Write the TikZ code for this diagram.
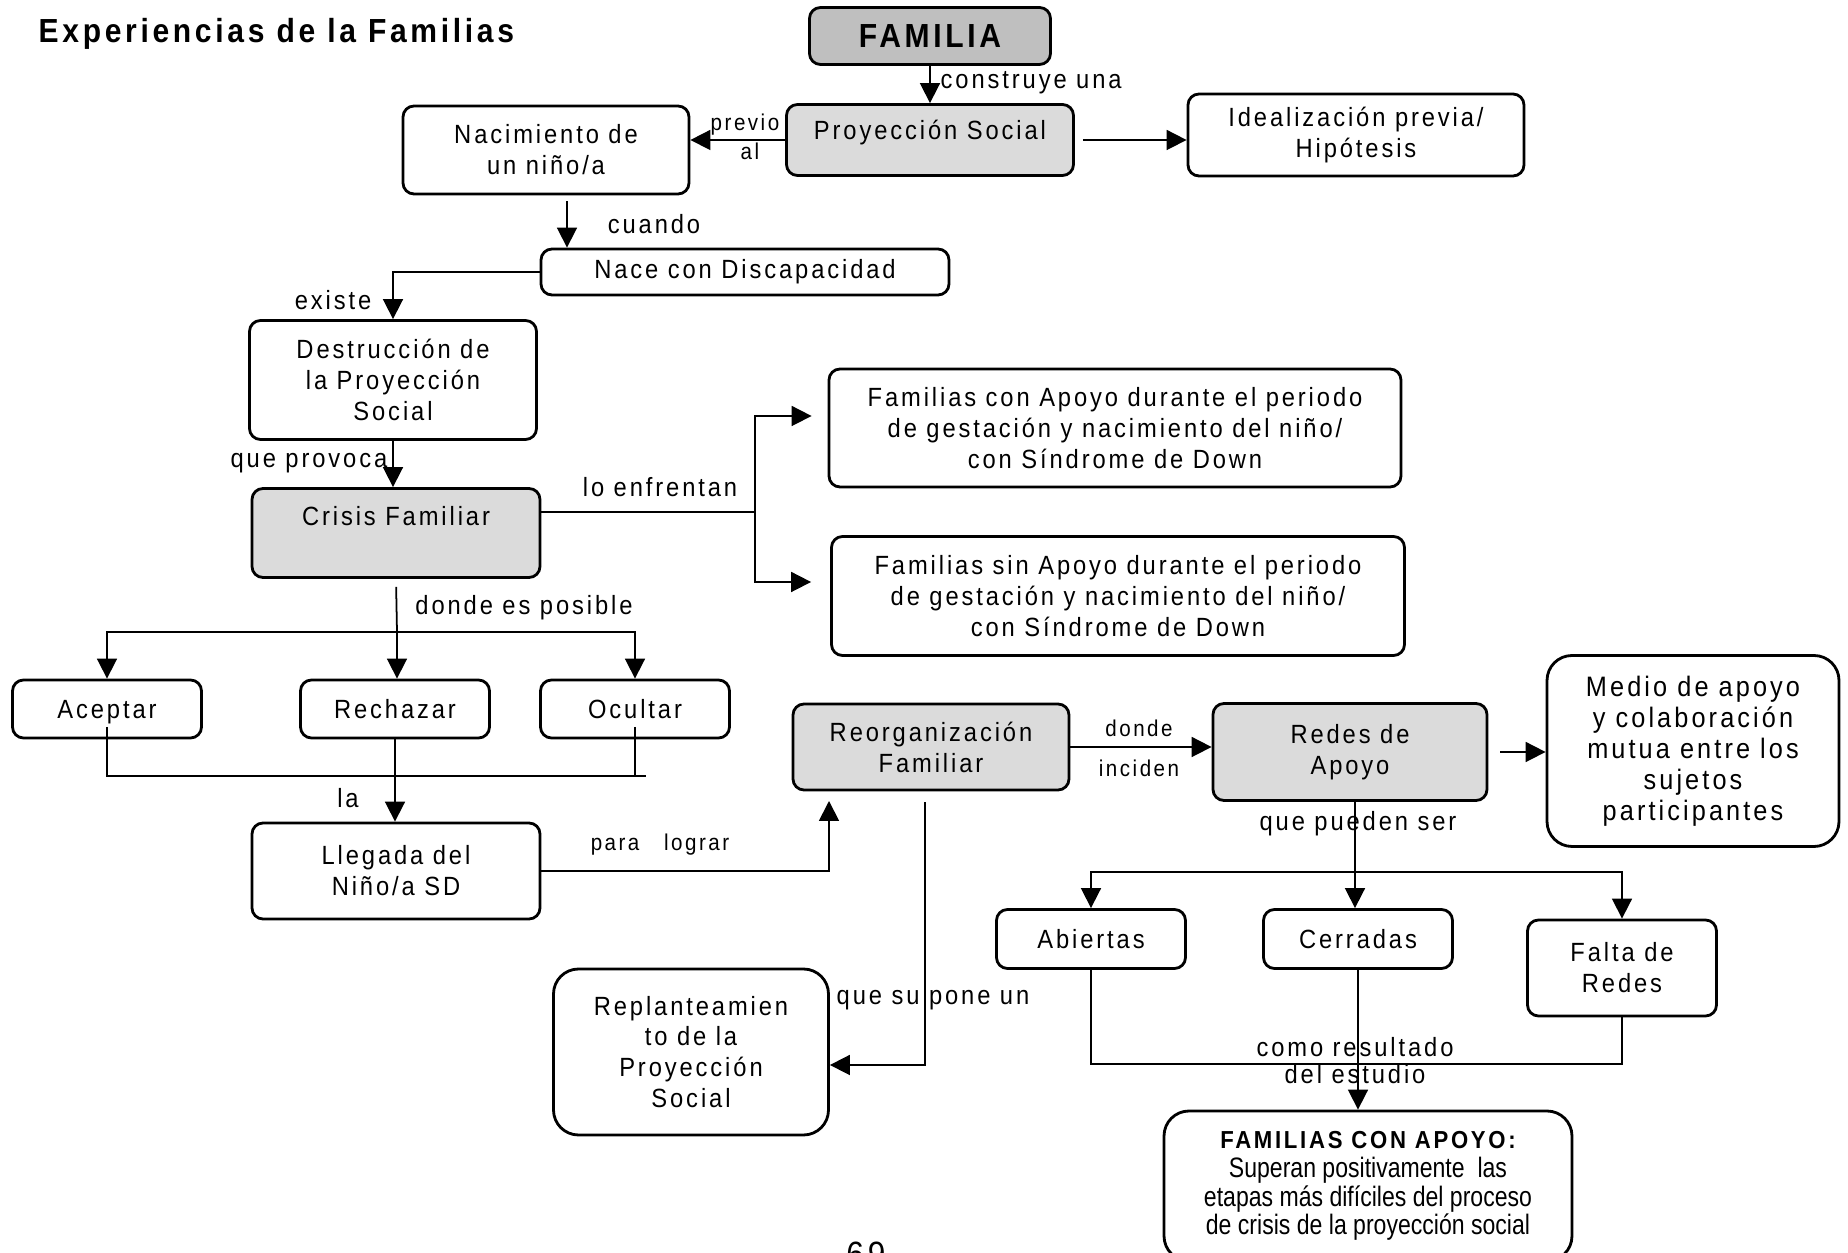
\documentclass[tikz,border=0pt]{standalone}
\usepackage{fontspec}
\setmainfont{Liberation Sans}[LetterSpace=11,FakeStretch=0.9]
\newfontfamily\estrecha{Liberation Sans}[FakeStretch=0.82]
\usetikzlibrary{arrows.meta,calc}

\begin{document}
\begin{tikzpicture}[x=0.1mm,y=-0.1mm,
    caja/.style={draw,line width=0.8pt,rounded corners=1.1mm,align=center,
      font=\fontsize{7.5}{8.8}\selectfont,inner sep=1pt},
    gris/.style={caja,fill=gray!28},
    flecha/.style={line width=0.5pt,-{Triangle[length=2mm,width=2mm]}},
    linea/.style={line width=0.5pt},
    etiq/.style={font=\fontsize{7.5}{8.8}\selectfont,inner sep=0pt},
    chica/.style={font=\fontsize{6.5}{7.5}\selectfont,inner sep=0pt}]
    \useasboundingbox (0,0) rectangle (1848,1253);
    \clip (0,0) rectangle (1848,1253);

    % Título
    \node[anchor=west,inner sep=0pt,font=\bfseries\fontsize{9.5}{11}\selectfont] (titulo) at (38,34) {Experiencias de la Familias};

    % Cajas de arriba
    \node[gris,fill=gray!50,minimum width=24.1mm,minimum height=5.7mm,font=\bfseries\fontsize{9.5}{11}\selectfont] (fam) at (930,36) {FAMILIA};
    \node[gris,minimum width=28.7mm,minimum height=7.1mm,text depth=2.1mm] (proy) at (930,140) {Proyección Social};
    \node[caja,minimum width=28.6mm,minimum height=8.8mm] (nac) at (546,150) {Nacimiento de\\un niño/a};
    \node[caja,minimum width=33.6mm,minimum height=8.2mm] (ideal) at (1356,135) {Idealización previa/\\Hipótesis};
    \node[caja,minimum width=40.8mm,minimum height=4.6mm] (nace) at (745,272) {Nace con Discapacidad};
    \node[caja,minimum width=28.7mm,minimum height=11.9mm] (destr) at (393,380) {Destrucción de\\la Proyección\\Social};
    \node[gris,minimum width=28.8mm,minimum height=8.9mm,text depth=3.5mm] (crisis) at (396,533) {Crisis Familiar};

    % Familias con y sin apoyo
    \node[caja,minimum width=57.2mm,minimum height=11.8mm] (fcon) at (1115,428) {Familias con Apoyo durante el periodo\\de gestación y nacimiento del niño/\\con Síndrome de Down};
    \node[caja,minimum width=57.3mm,minimum height=11.9mm] (fsin) at (1118,596) {Familias sin Apoyo durante el periodo\\de gestación y nacimiento del niño/\\con Síndrome de Down};

    % Aceptar, rechazar, ocultar
    \node[caja,minimum width=18.9mm,minimum height=5.8mm,text depth=0mm] (acep) at (107,709) {Aceptar};
    \node[caja,minimum width=18.9mm,minimum height=5.8mm,text depth=0mm] (rech) at (395,709) {Rechazar};
    \node[caja,minimum width=18.9mm,minimum height=5.8mm,text depth=0mm] (ocul) at (635,709) {Ocultar};
    \node[caja,minimum width=28.8mm,minimum height=9.6mm] (lleg) at (396,871) {Llegada del\\Niño/a SD};

    % Reorganización y redes
    \node[gris,minimum width=27.6mm,minimum height=8.6mm] (reorg) at (931,747) {Reorganización\\Familiar};
    \node[gris,minimum width=27.4mm,minimum height=9.7mm] (redes) at (1350,752) {Redes de\\Apoyo};
    \node[caja,rounded corners=2.5mm,minimum width=29.2mm,minimum height=19.1mm,font=\fontsize{8}{8.8}\selectfont] (medio) at (1693,751) {Medio de apoyo\\y colaboración\\mutua entre los\\sujetos\\participantes};
    \node[caja,minimum width=18.9mm,minimum height=5.9mm,text depth=0mm] (abier) at (1091,939) {Abiertas};
    \node[caja,minimum width=18.9mm,minimum height=5.9mm,text depth=0mm] (cerr) at (1358,939) {Cerradas};
    \node[caja,minimum width=18.9mm,minimum height=9.6mm] (falta) at (1622,968) {Falta de\\Redes};
    \node[caja,rounded corners=2.5mm,minimum width=27.5mm,minimum height=16.6mm] (repl) at (691,1052) {Replanteamien\\to de la\\Proyección\\Social};
    \node[caja,rounded corners=2.5mm,minimum width=40.8mm,minimum height=15mm,font=\estrecha\fontsize{8}{8.2}\selectfont] (apoyo) at (1368,1186) {{\normalfont\bfseries\fontsize{7}{8}\selectfont FAMILIAS CON APOYO:}\\Superan positivamente\ \ las\\etapas más difíciles del proceso\\de crisis de la proyección social};
    \node[font=\fontsize{10}{12}\selectfont] (pag) at (866,1254) {69};

    % Conectores de arriba
    \draw[flecha] (fam.south) -- (proy.north);
    \node[etiq,anchor=west] (lconstruye) at (940,83) {construye una};
    \draw[flecha] (proy.west) -- (proy.west -| nac.east);
    \node[chica] (lprevio) at (745,125) {previo};
    \node[chica] (lal) at (750,151) {al};
    \draw[flecha,shorten <=0.8mm] (proy.east) -- (proy.east -| ideal.west);
    \coordinate (n1) at ($(nac.south)+(21,0)$);
    \draw[flecha,shorten <=0.6mm] (n1) -- (n1 |- nace.north);
    \node[etiq] (lcuando) at (654,224) {cuando};
    \draw[flecha] (nace.west) -| (destr.north);
    \node[etiq] (lexiste) at (333,300) {existe};
    \draw[flecha] (destr.south) -- (destr.south |- crisis.north);
    \node[etiq,anchor=east] (lprovoca) at (388,463) {que provoca};

    % Crisis hacia las familias
    \coordinate (c1) at (755,512);
    \coordinate (c2) at ($(fcon.west)+(-16,-12)$);
    \coordinate (c3) at ($(fsin.west)+(-19,-14)$);
    \draw[linea] (c1 -| crisis.east) -- (c1);
    \draw[flecha] (c1) |- (c2);
    \draw[flecha] (c1) |- (c3);
    \node[etiq] (lenfrentan) at (660,487) {lo enfrentan};

    % Crisis hacia aceptar, rechazar, ocultar
    \coordinate (d1) at (397,632);
    \draw[linea,shorten <=0.8mm] (crisis.south) -- (d1);
    \draw[flecha] (d1) -- (d1 |- rech.north);
    \draw[flecha] (d1) -| (acep.north);
    \draw[flecha] (d1) -| (ocul.north);
    \node[etiq] (lposible) at (524,608) {donde es posible};
    \coordinate (e1) at (646,776);
    \draw[linea] ($(acep.center)+(0,18)$) |- (e1);
    \draw[linea] ($(ocul.center)+(0,18)$) -- (ocul.center |- e1);
    \draw[flecha] (rech.south) -- (rech.south |- lleg.north);
    \node[etiq] (lla) at (348,798) {la};

    % Llegada hacia reorganización
    \coordinate (r1) at (829,801);
    \draw[flecha] (lleg.east) -| (r1);
    \node[chica] (llograr) at (660,845) {para\ \ \ lograr};
    \draw[flecha] (reorg.east) -- (reorg.east -| redes.west);
    \node[chica] (ldonde) at (1139,728) {donde};
    \node[chica] (linciden) at (1139,768) {inciden};
    \draw[flecha,shorten <=1.2mm] (redes.east) -- (redes.east -| medio.west);

    % Tipos de redes
    \coordinate (t1) at (1355,872);
    \draw[linea] (t1 |- redes.south) -- (t1);
    \draw[flecha] (t1) -- (t1 |- cerr.north);
    \draw[flecha] (t1) -| (abier.north);
    \draw[flecha] (t1) -| (falta.north);
    \node[etiq] (lpueden) at (1358,824) {que pueden ser};

    % Reorganización hacia replanteamiento
    \coordinate (s1) at (925,1065);
    \draw[flecha,shorten <=1.1mm] (s1 |- reorg.south) -- (s1) -- (s1 -| repl.east);
    \node[etiq] (lsupone) at (933,1000) {que su pone un};

    % Resultado
    \coordinate (u1) at (1355,1064);
    \draw[linea] (abier.south) |- (falta.south |- u1) -- (falta.south);
    \draw[flecha] (cerr.south) -- (cerr.south |- apoyo.north);
    \node[etiq] (lresultado) at (1355,1047) {como resultado};
    \node[etiq] (lestudio) at (1355,1074) {del estudio};
\end{tikzpicture}
\end{document}
